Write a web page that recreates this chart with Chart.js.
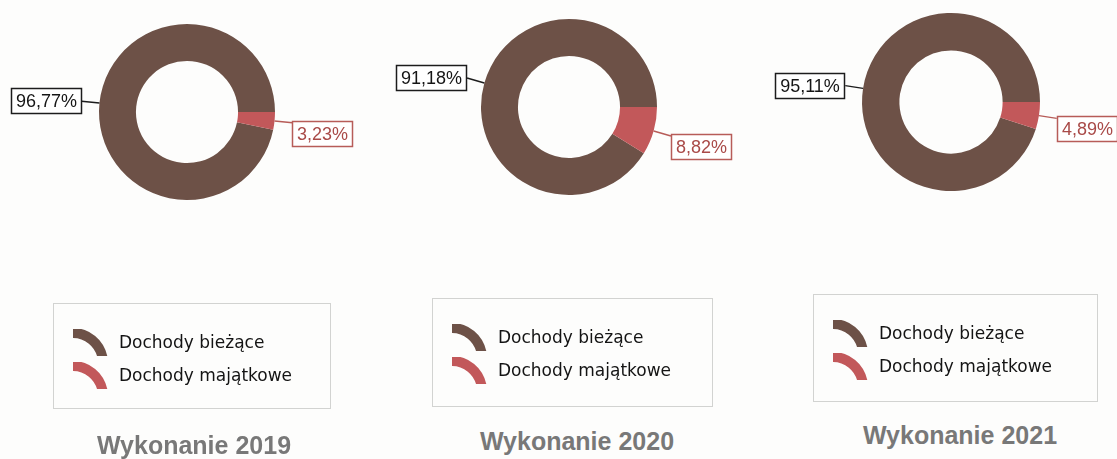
<!DOCTYPE html>
<html lang="pl">
<head>
<meta charset="utf-8">
<title>Struktura dochodów</title>
<script src="https://cdn.jsdelivr.net/npm/chart.js@4.4.1/dist/chart.umd.min.js"></script>
<style>
  html, body { margin: 0; padding: 0; background: #fdfdfc; }
  #page { position: relative; width: 1117px; height: 459px; overflow: hidden; }
  canvas.donut { position: absolute; top: 0; }
  .legend { position: absolute; border: 1px solid #d2d3d1; box-sizing: border-box; }
  .legend .row { position: absolute; display: flex; align-items: center; height: 28px;
    font-family: 'DejaVu Sans', Verdana, sans-serif; font-size: 17px; color: #141414; white-space: nowrap; }
  .legend canvas { margin-right: 10px; }
  .title { position: absolute; transform: translate(-50%, -50%); white-space: nowrap;
    font-family: 'Liberation Sans', Arial, sans-serif; font-weight: bold; font-size: 25px; color: #787878; }
</style>
</head>
<body>
<div id="page"></div>
<script>
// data
const years = ['2019', '2020', '2021'];
const categories = ['Dochody bieżące', 'Dochody majątkowe'];
const biezace = [96.77, 91.18, 95.11];
const majatkowe = [3.23, 8.82, 4.89];

const sliceColors = ['#6d5147', '#c2585a'];
const labelColors = ['#151515', '#a94a48'];
const boxColors = ['#1c1c1c', '#b75c58'];

// layout per panel (donut centre / radius, legend box, title centre)
const panels = [
  { col: 0,   cx: 187, cy: 112, r: 88, legend: [53, 303, 278, 106],  title: [194, 445] },
  { col: 372, cx: 569, cy: 107, r: 88, legend: [432, 298, 281, 109], title: [577, 441] },
  { col: 744, cx: 951, cy: 102, r: 89, legend: [813, 294, 285, 108], title: [960, 435] }
];
const colW = 373, canvasH = 240;

// boxed percentage labels with leader lines
const calloutPlugin = {
  id: 'callouts',
  afterDatasetsDraw(chart) {
    const ctx = chart.ctx;
    const values = chart.data.datasets[0].data;
    chart.getDatasetMeta(0).data.forEach((arc, i) => {
      const p = arc.getProps(['x', 'y', 'startAngle', 'endAngle', 'outerRadius'], true);
      const mid = (p.startAngle + p.endAngle) / 2;
      const cos = Math.cos(mid), sin = Math.sin(mid);
      const ax = p.x + cos * p.outerRadius, ay = p.y + sin * p.outerRadius;
      const lx = p.x + cos * (p.outerRadius + 18), ly = p.y + sin * (p.outerRadius + 18);
      const text = values[i].toFixed(2).replace('.', ',') + '%';

      ctx.save();
      ctx.font = '18px "Liberation Sans", Arial, sans-serif';
      const w = Math.round(ctx.measureText(text).width) + 10, h = 26;
      const left = cos < 0;
      const bx = Math.round(left ? lx - w : lx);
      const by = Math.round(left ? ly - h / 2 : ly - 2);

      ctx.strokeStyle = boxColors[i];
      ctx.lineWidth = 1.5;
      ctx.beginPath();
      ctx.moveTo(ax, ay);
      ctx.lineTo(lx, ly);
      ctx.stroke();

      ctx.fillStyle = '#ffffff';
      ctx.fillRect(bx, by, w, h);
      ctx.strokeRect(bx + 0.5, by + 0.5, w - 1, h - 1);

      ctx.fillStyle = labelColors[i];
      ctx.textAlign = 'center';
      ctx.textBaseline = 'middle';
      ctx.fillText(text, bx + w / 2, by + h / 2 + 1);
      ctx.restore();
    });
  }
};

// legend icon: a thick ring segment
function legendIcon(color) {
  const c = document.createElement('canvas');
  c.width = 37;
  c.height = 27;
  const g = c.getContext('2d');
  g.fillStyle = color;
  g.beginPath();
  g.arc(1, 34, 35, -Math.PI / 2, -0.2, false);
  g.arc(1, 34, 25, -0.2, -Math.PI / 2, true);
  g.closePath();
  g.fill();
  return c;
}

const page = document.getElementById('page');

panels.forEach((pn, k) => {
  const canvas = document.createElement('canvas');
  canvas.className = 'donut';
  canvas.width = colW;
  canvas.height = canvasH;
  canvas.style.left = pn.col + 'px';
  page.appendChild(canvas);

  const localX = pn.cx - pn.col;
  const chart = new Chart(canvas.getContext('2d'), {
    type: 'doughnut',
    data: {
      labels: categories,
      datasets: [{
        data: [biezace[k], majatkowe[k]],
        backgroundColor: sliceColors,
        borderWidth: 0,
        offset: 0,
        hoverOffset: 0
      }]
    },
    options: {
      responsive: false,
      animation: false,
      cutout: '58%',
      // small slice starts at 3 o'clock and runs clockwise
      rotation: 90 + majatkowe[k] * 3.6,
      layout: {
        padding: {
          left: localX - pn.r,
          right: colW - localX - pn.r,
          top: pn.cy - pn.r,
          bottom: canvasH - pn.cy - pn.r
        }
      },
      plugins: {
        legend: { display: false },
        tooltip: { enabled: false }
      }
    },
    plugins: [calloutPlugin]
  });

  // legend built from the chart's own labels and colours
  const lg = document.createElement('div');
  lg.className = 'legend';
  lg.style.left = pn.legend[0] + 'px';
  lg.style.top = pn.legend[1] + 'px';
  lg.style.width = pn.legend[2] + 'px';
  lg.style.height = pn.legend[3] + 'px';
  chart.data.labels.forEach((lab, i) => {
    const row = document.createElement('div');
    row.className = 'row';
    row.style.left = '18px';
    row.style.top = (24 + i * 33) + 'px';
    const txt = document.createElement('span');
    txt.textContent = lab;
    row.appendChild(legendIcon(chart.data.datasets[0].backgroundColor[i]));
    row.appendChild(txt);
    lg.appendChild(row);
  });
  page.appendChild(lg);

  const t = document.createElement('div');
  t.className = 'title';
  t.style.left = pn.title[0] + 'px';
  t.style.top = pn.title[1] + 'px';
  t.textContent = 'Wykonanie ' + years[k];
  page.appendChild(t);
});
</script>
</body>
</html>
